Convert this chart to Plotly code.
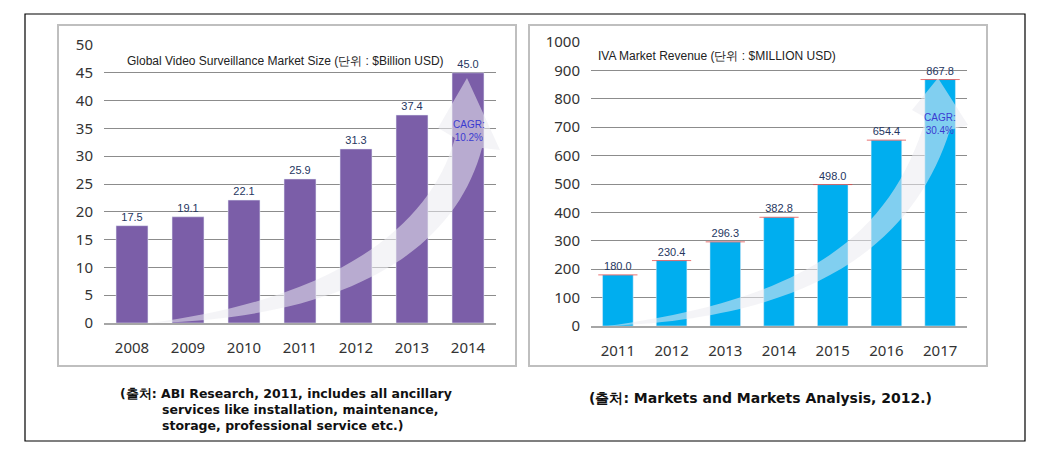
import plotly.graph_objects as go

W, H = 1052, 451
OFF = 8  # page body margin offset

# ---- data ----
years_left = ["2008", "2009", "2010", "2011", "2012", "2013", "2014"]
values_left = [17.5, 19.1, 22.1, 25.9, 31.3, 37.4, 45.0]
title_left = "Global Video Surveillance Market Size (단위 : $Billion USD)"
cagr_left = "CAGR:<br>10.2%"
source_left = ["(출처: ABI Research, 2011, includes all ancillary",
               "services like installation, maintenance,",
               "storage, professional service etc.)"]

years_right = ["2011", "2012", "2013", "2014", "2015", "2016", "2017"]
values_right = [180.0, 230.4, 296.3, 382.8, 498.0, 654.4, 867.8]
title_right = "IVA Market Revenue (단위 : $MILLION USD)"
cagr_right = "CAGR:<br>30.4%"
source_right = "(출처: Markets and Markets Analysis, 2012.)"

ticks_left = list(range(0, 51, 5))
ticks_right = list(range(0, 1001, 100))

PURPLE = "#7B5EA8"
CYAN = "#00AEEF"
LABEL = "#26375F"
NARROW = "Liberation Sans Narrow, Arial Narrow, Liberation Sans, sans-serif"
AXFONT = "Noto Sans, DejaVu Sans, sans-serif"


def px(x):
    return (x - OFF) / W


def py(y):
    return 1 - (y - OFF) / H


fig = go.Figure()

fig.add_trace(go.Bar(
    x=years_left, y=values_left, marker_color=PURPLE,
    text=[f"{v:.1f}" for v in values_left], textposition="outside",
    textfont=dict(family=NARROW, size=11, color=LABEL),
    cliponaxis=False, xaxis="x", yaxis="y", showlegend=False))

fig.add_trace(go.Bar(
    x=years_right, y=values_right, marker_color=CYAN,
    text=[f"{v:.1f}" for v in values_right], textposition="outside",
    textfont=dict(family=NARROW, size=11, color=LABEL),
    cliponaxis=False, xaxis="x2", yaxis="y2", showlegend=False))

# thin red top edges on the right bars
fig.add_trace(go.Scatter(
    x=years_right, y=values_right, mode="markers",
    marker=dict(symbol="line-ew", size=28, line=dict(color="rgba(225,70,70,0.75)", width=1)),
    xaxis="x2", yaxis="y2", showlegend=False, hoverinfo="skip"))

grid = "#8C8C8C"
axis_common = dict(type="category", range=[-0.5, 6.5], autorange=False,
                   showgrid=False, zeroline=False, ticks="",
                   showline=True, linecolor="#A6A6A6", linewidth=2,
                   tickfont=dict(family=AXFONT, size=15, color="#333333"),
                   ticklabelstandoff=10, automargin=False, fixedrange=True)
yaxis_common = dict(showgrid=True, gridcolor=grid, gridwidth=1, zeroline=False,
                    ticks="", showline=False, autorange=False,
                    tickfont=dict(family=AXFONT, size=15, color="#333333"),
                    ticklabelstandoff=10, automargin=False, fixedrange=True)

fig.update_layout(
    width=W, height=H, margin=dict(l=0, r=0, t=0, b=0, pad=0, autoexpand=False),
    paper_bgcolor="white", plot_bgcolor="rgba(0,0,0,0)",
    bargap=0.43,
    xaxis=dict(domain=[px(104), px(496)], anchor="y",
               categoryorder="array", categoryarray=years_left, **axis_common),
    yaxis=dict(domain=[py(323), py(45)], range=[0, 50], tickvals=ticks_left,
               anchor="x", **yaxis_common),
    xaxis2=dict(domain=[px(591), px(967)], anchor="y2",
                categoryorder="array", categoryarray=years_right, **axis_common),
    yaxis2=dict(domain=[py(326), py(42)], range=[0, 1000], tickvals=ticks_right,
                anchor="x2", **yaxis_common),
)

shapes = []
# outer frame
shapes.append(dict(type="rect", xref="paper", yref="paper",
                   x0=px(25), x1=px(1025), y0=py(441), y1=py(14),
                   line=dict(color="black", width=1.2), layer="below"))
# panel frames
for x0, x1 in [(58, 516), (529, 987)]:
    shapes.append(dict(type="rect", xref="paper", yref="paper",
                       x0=px(x0), x1=px(x1), y0=py(366), y1=py(25),
                       line=dict(color="#BFBFBF", width=2), layer="below"))


def path_from_pixels(cmds):
    out = []
    for c in cmds:
        if isinstance(c, str):
            out.append(c)
        else:
            out.append(f"{px(c[0]):.5f},{py(c[1]):.5f}")
    return " ".join(out)


# curved growth arrows (decorative)
arrow_left = path_from_pixels([
    "M", (150, 323),
    "C", (350, 318), (455, 250), (482, 148),
    "L", (500, 150), "L", (467, 78), "L", (438, 128), "L", (455, 138),
    "C", (430, 230), (330, 300), (150, 323), "Z"])
arrow_right = path_from_pixels([
    "M", (607, 326),
    "C", (820, 318), (915, 240), (950, 130),
    "L", (968, 125), "L", (938, 78), "L", (912, 110), "L", (926, 118),
    "C", (890, 240), (800, 300), (607, 326), "Z"])
for p in (arrow_left, arrow_right):
    shapes.append(dict(type="path", xref="paper", yref="paper", path=p,
                       fillcolor="rgba(235,235,240,0.55)", line=dict(width=0),
                       layer="above"))

fig.update_layout(shapes=shapes)

ann = []
ann.append(dict(text=title_left, x=px(125), y=py(61), xref="paper", yref="paper",
                xanchor="left", yanchor="middle", showarrow=False,
                font=dict(family=NARROW, size=12, color="#222222")))
ann.append(dict(text=title_right, x=px(596), y=py(56), xref="paper", yref="paper",
                xanchor="left", yanchor="middle", showarrow=False,
                font=dict(family=NARROW, size=12, color="#222222")))
ann.append(dict(text=cagr_left, x=px(469), y=py(131), xref="paper", yref="paper",
                xanchor="center", yanchor="middle", showarrow=False,
                font=dict(family=NARROW, size=10, color="#3B3BD0")))
ann.append(dict(text=cagr_right, x=px(940), y=py(124), xref="paper", yref="paper",
                xanchor="center", yanchor="middle", showarrow=False,
                font=dict(family=NARROW, size=10, color="#3B3BD0")))
# sources
SRC = "DejaVu Sans, sans-serif"
ann.append(dict(text="<b>" + source_left[0] + "</b>", x=px(118), y=py(393),
                xref="paper", yref="paper", xanchor="left", yanchor="middle",
                showarrow=False, font=dict(family=SRC, size=12.5, color="#111")))
for i, line in enumerate(source_left[1:]):
    ann.append(dict(text="<b>" + line + "</b>", x=px(160), y=py(409 + 16 * i),
                    xref="paper", yref="paper", xanchor="left", yanchor="middle",
                    showarrow=False, font=dict(family=SRC, size=12.5, color="#111")))
ann.append(dict(text="<b>" + source_right + "</b>", x=px(760), y=py(398),
                xref="paper", yref="paper", xanchor="center", yanchor="middle",
                showarrow=False, font=dict(family=SRC, size=14, color="#111")))
fig.update_layout(annotations=ann)

fig.write_html("out.html")
